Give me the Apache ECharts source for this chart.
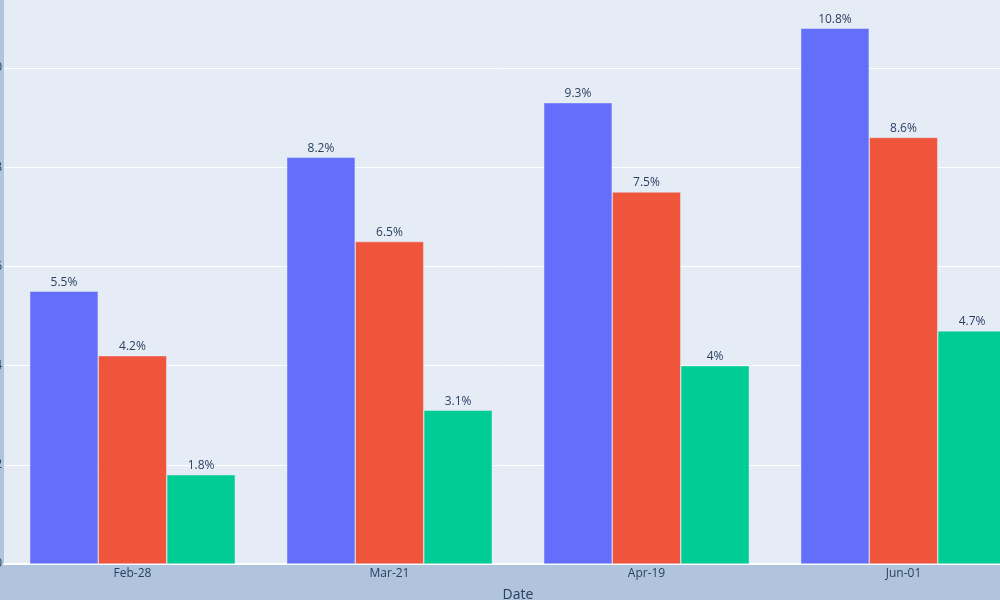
<!DOCTYPE html>
<html><head><meta charset="utf-8">
<script src="https://cdn.jsdelivr.net/npm/echarts@6/dist/echarts.min.js"></script>
<style>html,body{margin:0;padding:0;background:#B0C4DE;}#c{width:1000px;height:600px;}</style>
</head><body><div id="c"></div>
<script>
const categories = ['Feb-28', 'Mar-21', 'Apr-19', 'Jun-01'];
const seriesA = [5.5, 8.2, 9.3, 10.8];
const seriesB = [4.2, 6.5, 7.5, 8.6];
const seriesC = [1.8, 3.1, 4, 4.7];
const colors = ['#636EFA', '#EF553B', '#00CC96'];
const FONT = '"Open Sans", "Noto Sans", sans-serif';
const TXT = '#2a3f5f';

const chart = echarts.init(document.getElementById('c'), null, {renderer: 'canvas'});
function mk(name, data, color) {
  return {
    name, type: 'bar', data,
    barGap: '0%', barCategoryGap: '20%',
    itemStyle: {color, borderColor: 'rgba(229,236,246,0.8)', borderWidth: 0.6},
    label: {show: true, position: 'top', distance: 3, formatter: '{c}%',
            color: TXT, fontSize: 12, fontFamily: FONT}
  };
}
chart.setOption({
  backgroundColor: '#B0C4DE',
  animation: false,
  grid: {left: 4, top: -1, width: 1028, bottom: 36, show: true,
         containLabel: false, outerBoundsMode: 'none',
         backgroundColor: '#E5ECF6', borderWidth: 0},
  xAxis: {
    type: 'category', data: categories,
    name: 'Date', nameLocation: 'middle', nameGap: 24,
    nameTextStyle: {color: TXT, fontSize: 14, fontFamily: FONT},
    axisLine: {show: true, lineStyle: {color: '#ffffff', width: 2}},
    axisTick: {show: false},
    axisLabel: {color: TXT, fontSize: 12, fontFamily: FONT, margin: 4}
  },
  yAxis: {
    type: 'value', min: 0, max: 11.39, interval: 2,
    axisLine: {show: false}, axisTick: {show: false},
    axisLabel: {color: TXT, fontSize: 12, fontFamily: FONT, margin: 2, showMaxLabel: false},
    splitLine: {show: true, lineStyle: {color: '#ffffff', width: 1}}
  },
  series: [mk('A', seriesA, colors[0]), mk('B', seriesB, colors[1]), mk('C', seriesC, colors[2])]
});
</script></body></html>
